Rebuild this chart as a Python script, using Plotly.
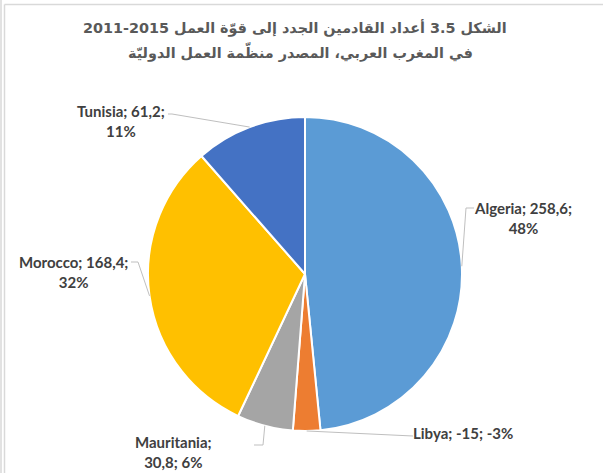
import math
import plotly.graph_objects as go

# ---- data ----
countries = ["Algeria", "Libya", "Mauritania", "Morocco", "Tunisia"]
values = [258.6, -15, 30.8, 168.4, 61.2]
colors = ["#5B9BD5", "#ED7D31", "#A5A5A5", "#FFC000", "#4472C4"]
title_lines = [
    "الشكل 3.5 أعداد القادمين الجدد إلى قوّة العمل 2015-2011",
    "في المغرب العربي، المصدر منظّمة العمل الدوليّة",
]

# ---- layout / style ----
W, H = 603, 473
CX, CY, R = 305, 274, 157  # pie centre and radius in pixels
label_break = {"Algeria": 1, "Libya": None, "Mauritania": 0, "Morocco": 1, "Tunisia": 1}
label_style = {
    "Algeria": dict(pos=(523, 218), path=[(474, 208), (466, 208)]),
    "Libya": dict(pos=(463, 433), path=[(413, 436)]),
    "Mauritania": dict(pos=(173, 452), path=[(254, 445), (263, 445)]),
    "Morocco": dict(pos=(73, 272), path=[(131, 262), (138, 262)]),
    "Tunisia": dict(pos=(121, 121), path=[(168, 114), (172, 114)]),
}
title_pos = [(295, 28), (300, 52)]


def px2paper(x, y):
    return x / W, 1 - y / H


abs_vals = [abs(v) for v in values]
total = sum(abs_vals)


def fmt(v):
    return f"{v:g}".replace(".", ",")


fig = go.Figure()
x0, y1 = px2paper(CX - R, CY - R)
x1, y0 = px2paper(CX + R, CY + R)
fig.add_trace(go.Pie(
    labels=countries,
    values=abs_vals,
    sort=False,
    direction="clockwise",
    rotation=0,
    marker=dict(colors=colors, line=dict(color="white", width=2)),
    textinfo="none",
    hoverinfo="label+value+percent",
    showlegend=False,
    domain=dict(x=[x0, x1], y=[y0, y1]),
))

annotations = []
shapes = []
cum = 0.0
for name, v, a in zip(countries, values, abs_vals):
    mid = (cum + a / 2) / total
    cum += a
    ang = 2 * math.pi * mid
    ex, ey = CX + R * math.sin(ang), CY - R * math.cos(ang)
    pct = round(100 * v / total)
    parts = [name, fmt(v), f"{pct}%"]
    b = label_break[name]
    if b is None:
        text = "; ".join(parts)
    else:
        text = "; ".join(parts[: b + 1]) + ";<br>" + "; ".join(parts[b + 1:])
    st = label_style[name]
    lx, ly = px2paper(*st["pos"])
    annotations.append(dict(
        text=f"<b>{text}</b>", x=lx, y=ly, xref="paper", yref="paper",
        showarrow=False, xanchor="center", yanchor="middle",
        font=dict(family="Lato, Open Sans, sans-serif", size=15, color="#404040"),
        align="center",
    ))
    pts = st["path"] + [(ex, ey)]
    d = "M " + " L ".join(f"{px2paper(px, py)[0]},{px2paper(px, py)[1]}" for px, py in pts)
    shapes.append(dict(type="path", path=d, xref="paper", yref="paper",
                       line=dict(color="#BFBFBF", width=1)))

for line, (xx, yy) in zip(title_lines, title_pos):
    tx, ty = px2paper(xx, yy)
    annotations.append(dict(
        text="<b>" + line + "</b>", x=tx, y=ty, xref="paper", yref="paper",
        showarrow=False, xanchor="center", yanchor="middle",
        font=dict(family="DejaVu Sans, Arial, sans-serif", size=14.4, color="#595959"),
    ))

# thin grey frame lines at top-left
for (a, b, c, d) in [(1, 0, 1, H), (4.5, 4.5, 4.5, H), (4.5, 4.5, W, 4.5)]:
    p0 = px2paper(a, b)
    p1 = px2paper(c, d)
    shapes.append(dict(type="line", x0=p0[0], y0=p0[1], x1=p1[0], y1=p1[1],
                       xref="paper", yref="paper", line=dict(color="#D9D9D9", width=1.5)))

fig.update_layout(
    width=W, height=H,
    margin=dict(l=0, r=0, t=0, b=0),
    paper_bgcolor="white", plot_bgcolor="white",
    annotations=annotations, shapes=shapes,
)
fig.write_html(
    "out.html",
    config={"displayModeBar": False},
    post_script="document.body.style.margin='0';document.body.style.overflow='hidden';",
)
